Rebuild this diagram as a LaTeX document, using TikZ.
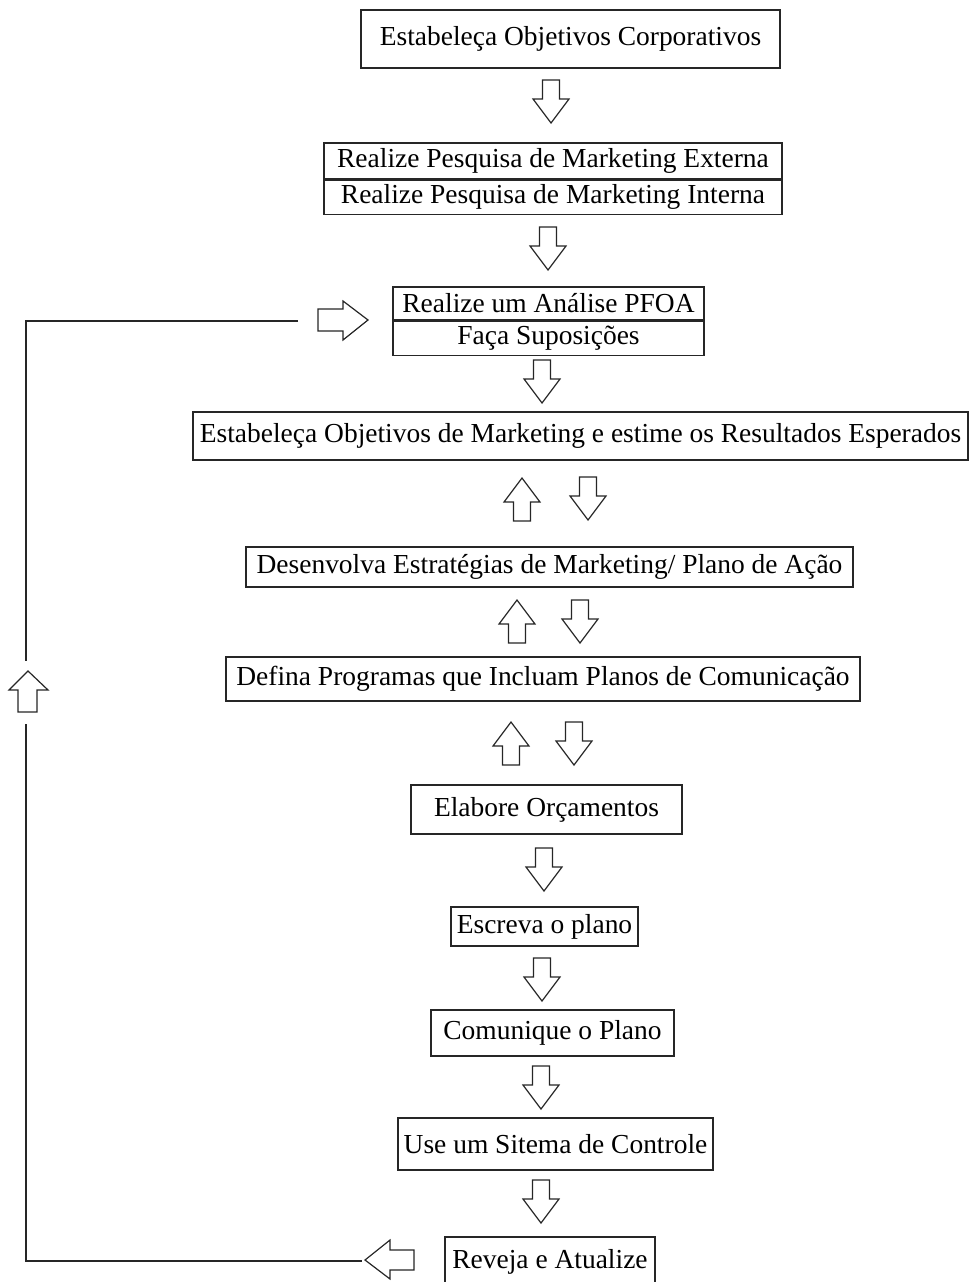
\documentclass[tikz,border=0pt]{standalone}
\usepackage{fontspec}
\setmainfont{Liberation Serif}
\begin{document}
\begin{tikzpicture}[x=0.75pt,y=-0.75pt,
  box/.style={draw=black!85, line width=1pt, inner sep=0pt, font=\fontsize{20.6}{24}\selectfont},
  blk/.style={draw=black!85, line width=0.9pt, fill=white, line join=miter},
  loopline/.style={draw=black!85, line width=1pt}]
\useasboundingbox (0,0) rectangle (970,1282);
\tikzset{darr/.pic={\path[blk] (-8.5,0) -- (8.5,0) -- (8.5,19) -- (18,19) -- (0,43) -- (-18,19) -- (-8.5,19) -- cycle;}}
% boxes
\node[box, minimum width=419*0.75pt, minimum height=58*0.75pt] (b1) at (570.5,39) {Estabeleça Objetivos Corporativos};
\node[box, minimum width=458*0.75pt, minimum height=36*0.75pt] (b2a) at (553,161) {Realize Pesquisa de Marketing Externa};
\node[box, minimum width=458*0.75pt, minimum height=34*0.75pt, anchor=north] (b2b) at (b2a.south) {Realize Pesquisa de Marketing Interna};
\node[box, minimum width=311*0.75pt, minimum height=33*0.75pt] (b3a) at (548.5,303.5) {Realize um Análise PFOA};
\node[box, minimum width=311*0.75pt, minimum height=34*0.75pt, anchor=north] (b3b) at (b3a.south) {Faça Suposições};
\node[box, minimum width=775*0.75pt, minimum height=48*0.75pt] (b4) at (580.5,436) {Estabeleça Objetivos de Marketing e estime os Resultados Esperados};
\node[box, minimum width=607*0.75pt, minimum height=40*0.75pt] (b5) at (549.5,567) {Desenvolva Estratégias de Marketing/ Plano de Ação};
\node[box, minimum width=634*0.75pt, minimum height=44*0.75pt] (b6) at (543,679) {Defina Programas que Incluam Planos de Comunicação};
\node[box, minimum width=271*0.75pt, minimum height=49*0.75pt] (b7) at (546.5,809.5) {Elabore Orçamentos};
\node[box, minimum width=187*0.75pt, minimum height=39*0.75pt] (b8) at (544.5,926.5) {Escreva o plano};
\node[box, minimum width=243*0.75pt, minimum height=46*0.75pt] (b9) at (552.5,1033) {Comunique o Plano};
\node[box, minimum width=315*0.75pt, minimum height=52*0.75pt] (b10) at (555.5,1144) {Use um Sitema de Controle};
\node[box, minimum width=210*0.75pt, minimum height=50*0.75pt] (b11) at (550,1262) {Reveja e Atualize};
% block arrows (down)
\pic at (551,80) {darr};
\pic at (548,227) {darr};
\pic at (542,360) {darr};
\pic at (588,477) {darr};
\pic at (580,600) {darr};
\pic at (574,722) {darr};
\pic at (544,848) {darr};
\pic at (542,958) {darr};
\pic at (541,1066) {darr};
\pic at (541,1180) {darr};
% block arrows (up)
\pic[rotate=180] at (522,521) {darr};
\pic[rotate=180] at (517,643) {darr};
\pic[rotate=180] at (511,765) {darr};
% loop connector
\coordinate (l1) at (298,321);
\coordinate (l2) at (26,321);
\coordinate (l3) at (26,661);
\coordinate (l4) at (26,724);
\coordinate (l5) at (26,1261);
\coordinate (l6) at (362,1261);
\path[loopline] (l1) -- (l2) -- (l3);
\path[loopline] (l4) -- (l5) -- (l6);
% right arrow into b3
\path[blk] (318,309) -- (343,309) -- (343,301) -- (368,320) -- (343,340) -- (343,331) -- (318,331) -- cycle;
% left arrow from b11
\path[blk] (414,1250) -- (390,1250) -- (390,1240) -- (365,1260) -- (390,1279) -- (390,1270) -- (414,1270) -- cycle;
% up arrow on loop
\path[blk] (18,712) -- (18,690) -- (9,690) -- (28,671) -- (48,690) -- (37,690) -- (37,712) -- cycle;
\end{tikzpicture}
\end{document}
